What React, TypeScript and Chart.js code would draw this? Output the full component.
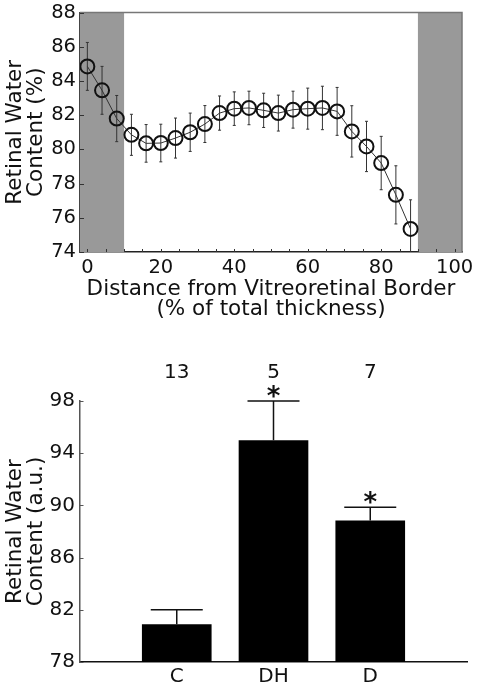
import React, { useEffect, useRef } from "react";
import { Chart, registerables } from "chart.js";

Chart.register(...registerables);

const FONT = "'DejaVu Sans', 'Liberation Sans', Arial, sans-serif";

// ---- Top panel: water content across retinal depth ----
const depthPercent = [0, 4, 8, 12, 16, 20, 24, 28, 32, 36, 40, 44, 48, 52, 56, 60, 64, 68, 72, 76, 80, 84, 88];
const waterContent = [84.85, 83.45, 81.8, 80.85, 80.35, 80.37, 80.66, 81.0, 81.48, 82.12, 82.38, 82.42, 82.28, 82.12, 82.32, 82.38, 82.42, 82.22, 81.05, 80.17, 79.2, 77.34, 75.35];
const waterError = [1.4, 1.4, 1.35, 1.2, 1.1, 1.1, 1.17, 1.12, 1.08, 1.0, 0.98, 0.98, 1.0, 1.05, 1.08, 1.2, 1.27, 1.4, 1.5, 1.47, 1.56, 1.7, 1.7];
const excludedRanges = [[-2, 10], [90, 102]];
const depthTitle = ["Distance from Vitreoretinal Border", "(% of total thickness)"];
const topYTitle = ["Retinal Water", "Content (%)"];

// ---- Bottom panel: group means ----
const groups = ["C", "DH", "D"];
const groupMeans = [80.9, 95.0, 88.85];
const groupSem = [1.1, 3.0, 1.0];
const groupN = ["13", "5", "7"];
const groupSignificant = [false, true, true];
const bottomYTitle = ["Retinal Water", "Content (a.u.)"];

function TopChart() {
  const ref = useRef<HTMLCanvasElement>(null);
  useEffect(() => {
    const canvas = ref.current!;
    const plugin = {
      id: "topDecor",
      beforeDatasetsDraw(chart: any) {
        const { ctx, chartArea, scales } = chart;
        const x = scales.x, y = scales.y;
        ctx.save();
        ctx.fillStyle = "#999999";
        for (const [a, b] of excludedRanges) {
          const x0 = Math.max(chartArea.left, x.getPixelForValue(a));
          const x1 = Math.min(chartArea.right, x.getPixelForValue(b));
          ctx.fillRect(x0, chartArea.top, x1 - x0, chartArea.bottom - chartArea.top);
        }
        ctx.beginPath();
        ctx.rect(chartArea.left, chartArea.top, chartArea.right - chartArea.left, chartArea.bottom - chartArea.top);
        ctx.clip();
        ctx.strokeStyle = "#333";
        ctx.lineWidth = 1;
        depthPercent.forEach((d, i) => {
          const px = x.getPixelForValue(d);
          const yt = y.getPixelForValue(waterContent[i] + waterError[i]);
          const yb = y.getPixelForValue(waterContent[i] - waterError[i]);
          ctx.beginPath();
          ctx.moveTo(px, yt);
          ctx.lineTo(px, yb);
          ctx.moveTo(px - 1.5, yt);
          ctx.lineTo(px + 1.5, yt);
          ctx.moveTo(px - 1.5, yb);
          ctx.lineTo(px + 1.5, yb);
          ctx.stroke();
        });
        ctx.restore();
      },
      afterDraw(chart: any) {
        const { ctx, chartArea, scales } = chart;
        const { left, right, top, bottom } = chartArea;
        ctx.save();
        ctx.strokeStyle = "#777";
        ctx.lineWidth = 1.5;
        ctx.beginPath();
        ctx.moveTo(left, top);
        ctx.lineTo(right, top);
        ctx.lineTo(right, bottom);
        ctx.stroke();
        ctx.strokeStyle = "#333";
        ctx.lineWidth = 1;
        ctx.beginPath();
        scales.y.ticks.forEach((t: any) => {
          const py = Math.round(scales.y.getPixelForValue(t.value)) + 0.5;
          ctx.moveTo(left, py);
          ctx.lineTo(left + 4, py);
        });
        scales.x.ticks.forEach((t: any) => {
          const px = Math.round(scales.x.getPixelForValue(t.value)) + 0.5;
          ctx.moveTo(px, bottom);
          ctx.lineTo(px, bottom - 3);
        });
        ctx.stroke();
        ctx.restore();
      },
    };
    const chart = new Chart(canvas, {
      type: "line",
      data: {
        datasets: [
          {
            data: depthPercent.map((d, i) => ({ x: d, y: waterContent[i] })),
            borderColor: "#333",
            borderWidth: 1,
            pointRadius: 7,
            pointBorderWidth: 2,
            pointBorderColor: "#111",
            pointBackgroundColor: "rgba(0,0,0,0)",
            tension: 0,
          },
        ],
      },
      options: {
        animation: false,
        responsive: false,
        devicePixelRatio: 1,
        layout: { padding: { left: 0, right: 16, top: 12.5, bottom: 0 } },
        plugins: { legend: { display: false }, tooltip: { enabled: false } },
        scales: {
          x: {
            type: "linear",
            min: -2,
            max: 102,
            grid: { display: false, drawTicks: false },
            border: { display: true, color: "#222", width: 1.5 },
            ticks: {
              stepSize: 5,
              includeBounds: false,
              autoSkip: false,
              maxRotation: 0,
              padding: 4,
              color: "#111",
              font: { family: FONT, size: 19.5 },
              callback: (v: any) => (Number(v) % 20 === 0 ? String(v) : ""),
            },
            title: {
              display: true,
              text: depthTitle,
              color: "#111",
              font: { family: FONT, size: 21.5, lineHeight: 0.93 },
              padding: { top: 0, bottom: 21 },
            },
            afterFit(s: any) {
              s.height = 88;
              s.paddingLeft = 0;
              s.paddingRight = 0;
            },
          },
          y: {
            min: 74,
            max: 88,
            grid: { display: false, drawTicks: false },
            border: { display: true, color: "#444", width: 1.5 },
            ticks: {
              stepSize: 2,
              padding: 4,
              color: "#111",
              font: { family: FONT, size: 19.5 },
            },
            title: {
              display: true,
              text: topYTitle,
              color: "#111",
              font: { family: FONT, size: 21.5, lineHeight: 1.0 },
              padding: { top: 4.5, bottom: 0 },
            },
            afterFit(s: any) {
              s.width = 80;
              s.paddingTop = 0;
              s.paddingBottom = 0;
            },
          },
        },
      } as any,
      plugins: [plugin],
    });
    return () => chart.destroy();
  }, []);
  return <canvas ref={ref} width={478} height={340} style={{ display: "block", width: 478, height: 340 }} />;
}

function BottomChart() {
  const ref = useRef<HTMLCanvasElement>(null);
  useEffect(() => {
    const canvas = ref.current!;
    const plugin = {
      id: "bottomDecor",
      afterDatasetsDraw(chart: any) {
        const { ctx, chartArea, scales } = chart;
        const x = scales.x, y = scales.y;
        ctx.save();
        ctx.strokeStyle = "#111";
        ctx.lineWidth = 1.5;
        ctx.fillStyle = "#111";
        groups.forEach((g, i) => {
          const px = x.getPixelForValue(i + 1);
          const yb = y.getPixelForValue(groupMeans[i]);
          const yt = y.getPixelForValue(groupMeans[i] + groupSem[i]);
          ctx.beginPath();
          ctx.moveTo(px, yb);
          ctx.lineTo(px, yt);
          ctx.moveTo(px - 26, yt);
          ctx.lineTo(px + 26, yt);
          ctx.stroke();
          ctx.textAlign = "center";
          ctx.textBaseline = "middle";
          ctx.font = `20px ${FONT}`;
          ctx.fillText(groupN[i], px, chartArea.top - 28);
          if (groupSignificant[i]) {
            ctx.font = `bold 26px ${FONT}`;
            ctx.textBaseline = "alphabetic";
            ctx.fillText("*", px, yt + 4);
          }
        });
        ctx.strokeStyle = "#555";
        ctx.lineWidth = 1;
        ctx.beginPath();
        y.ticks.forEach((t: any) => {
          const py = Math.round(y.getPixelForValue(t.value)) + 0.5;
          ctx.moveTo(chartArea.left, py);
          ctx.lineTo(chartArea.left + 3.5, py);
        });
        ctx.stroke();
        ctx.restore();
      },
    };
    const chart = new Chart(canvas, {
      type: "bar",
      data: {
        labels: ["", ...groups, ""],
        datasets: [
          {
            data: [null, ...groupMeans, null],
            backgroundColor: "#000",
            borderWidth: 0,
          },
        ],
      },
      options: {
        animation: false,
        responsive: false,
        devicePixelRatio: 1,
        layout: { padding: { left: 0, right: 11, top: 61, bottom: 0 } },
        plugins: { legend: { display: false }, tooltip: { enabled: false } },
        scales: {
          x: {
            type: "category",
            offset: false,
            grid: { display: false, drawTicks: false },
            border: { display: true, color: "#111", width: 1.5 },
            ticks: {
              autoSkip: false,
              maxRotation: 0,
              padding: 3,
              color: "#111",
              font: { family: FONT, size: 20 },
            },
            afterFit(s: any) {
              s.height = 28;
              s.paddingLeft = 0;
              s.paddingRight = 0;
            },
          },
          y: {
            min: 78,
            max: 98,
            grid: { display: false, drawTicks: false },
            border: { display: true, color: "#555", width: 1.5 },
            ticks: {
              stepSize: 2,
              padding: 5,
              color: "#111",
              font: { family: FONT, size: 20 },
              callback: (v: any) => ((Number(v) - 78) % 4 === 0 ? String(v) : ""),
            },
            title: {
              display: true,
              text: bottomYTitle,
              color: "#111",
              font: { family: FONT, size: 21.5, lineHeight: 1.0 },
              padding: { top: 4.5, bottom: 0 },
            },
            afterFit(s: any) {
              s.width = 80;
              s.paddingTop = 0;
              s.paddingBottom = 0;
            },
          },
        },
      } as any,
      plugins: [plugin],
    });
    return () => chart.destroy();
  }, []);
  return <canvas ref={ref} width={478} height={350} style={{ display: "block", width: 478, height: 350 }} />;
}

export default function App() {
  return (
    <div style={{ position: "absolute", left: 0, top: 0, width: 478, height: 690, background: "#fff" }}>
      <TopChart />
      <BottomChart />
    </div>
  );
}
